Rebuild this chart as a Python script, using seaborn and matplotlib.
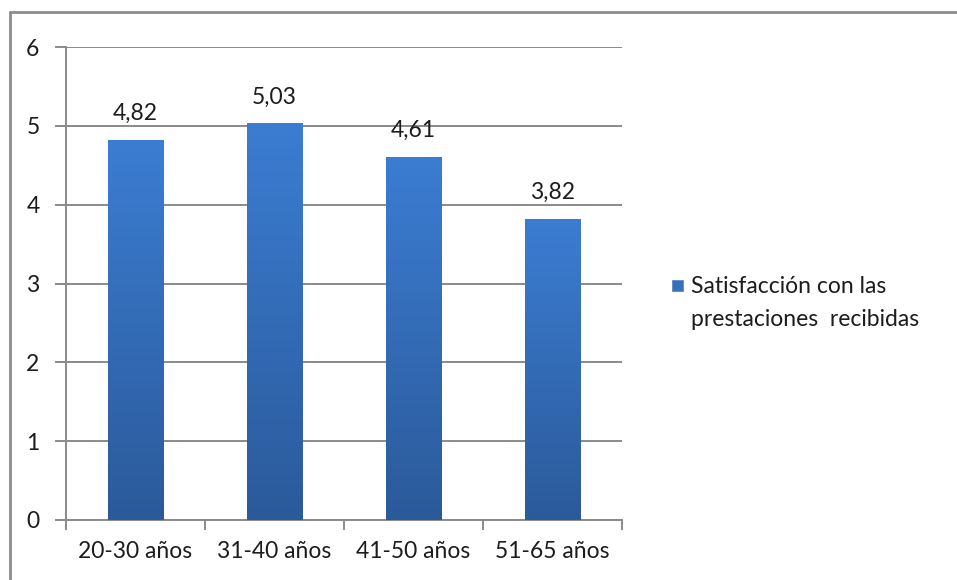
import numpy as np
import matplotlib
matplotlib.use("Agg")
import matplotlib.pyplot as plt
from matplotlib.patches import Rectangle
from matplotlib.lines import Line2D
import seaborn as sns
import pandas as pd

categories = ["20-30 años", "31-40 años", "41-50 años", "51-65 años"]
values = [4.82, 5.03, 4.61, 3.82]
value_labels = ["4,82", "5,03", "4,61", "3,82"]
legend_lines = ["Satisfacción con las", "prestaciones  recibidas"]
y_ticks = [0, 1, 2, 3, 4, 5, 6]

sns.set_theme(style="white")
plt.rcParams["font.family"] = ["Lato", "DejaVu Sans"]

FS = 16.5
TXT = "#1c1c1c"

df = pd.DataFrame({"grupo": categories, "valor": values})

fig = plt.figure(figsize=(9.57, 5.80), dpi=100)
ax = fig.add_axes([66 / 957, 1 - 520 / 580, (622 - 66) / 957, (520 - 47) / 580])

sns.barplot(data=df, x="grupo", y="valor", color="#3670bb", width=0.4,
            saturation=1, ax=ax, zorder=3)

# vertical gradient fill on each bar: lighter at top, darker at base
top_c = np.array(matplotlib.colors.to_rgb("#3b7dd2"))
bot_c = np.array(matplotlib.colors.to_rgb("#2b5a9a"))
grad = np.linspace(0, 1, 256)[:, None]
for p in ax.patches:
    x0, y0 = p.get_x(), p.get_y()
    w, h = p.get_width(), p.get_height()
    img = (bot_c[None, :] * (1 - grad) + top_c[None, :] * grad)[:, None, :]
    im = ax.imshow(img, extent=[x0, x0 + w, y0, y0 + h], origin="lower",
                   aspect="auto", zorder=3, interpolation="bilinear")
    im.set_clip_path(p)
    p.set_facecolor("none")
    p.set_edgecolor("none")

ax.set_xlim(-0.5, len(categories) - 0.5)
ax.set_ylim(0, 6)
ax.set_yticks(y_ticks)
ax.set_yticklabels([str(t) for t in y_ticks])
ax.set_xticks(np.arange(len(categories) + 1) - 0.5, minor=False)
ax.set_xticklabels([])
ax.set_xticks(np.arange(len(categories)), minor=True)
ax.set_xticklabels(categories, minor=True)
ax.set_xlabel("")
ax.set_ylabel("")

grid_c = "#8a8a8a"
for t in y_ticks:
    ax.axhline(t, color=grid_c, lw=1.4, zorder=1)
for s in ["top", "right"]:
    ax.spines[s].set_visible(False)
for s in ["left", "bottom"]:
    ax.spines[s].set_color(grid_c)
    ax.spines[s].set_linewidth(1.4)

ax.tick_params(axis="y", which="major", direction="out", length=8, width=1.4,
               color=grid_c, left=True, labelsize=FS, pad=11, labelcolor=TXT)
ax.tick_params(axis="x", which="major", direction="out", length=7, width=1.4,
               color=grid_c, bottom=True)
ax.tick_params(axis="x", which="minor", length=0, labelsize=FS, pad=15,
               labelcolor=TXT)

for i, (v, lab) in enumerate(zip(values, value_labels)):
    ax.annotate(lab, xy=(i, v), xytext=(0, 16), textcoords="offset pixels",
                ha="center", va="bottom", fontsize=FS, color=TXT)

# legend entry
fig.patches.append(Rectangle((672 / 957, 1 - 291 / 580), 11 / 957, 11 / 580,
                             transform=fig.transFigure, facecolor="#3670bb",
                             edgecolor="#5a8ad0", lw=0.6))
fig.text(691 / 957, 1 - 287 / 580, legend_lines[0], fontsize=FS,
         va="center", ha="left", color=TXT)
fig.text(691 / 957, 1 - 319 / 580, legend_lines[1], fontsize=FS,
         va="center", ha="left", color=TXT)

# chart frame
fig.lines.append(Line2D([10 / 957, 1], [1 - 12 / 580, 1 - 12 / 580],
                        transform=fig.transFigure, color="#8c8c8c", lw=2))
fig.lines.append(Line2D([10 / 957, 10 / 957], [1 - 12 / 580, 0],
                        transform=fig.transFigure, color="#8c8c8c", lw=2))

fig.savefig("out.png", dpi=100)
